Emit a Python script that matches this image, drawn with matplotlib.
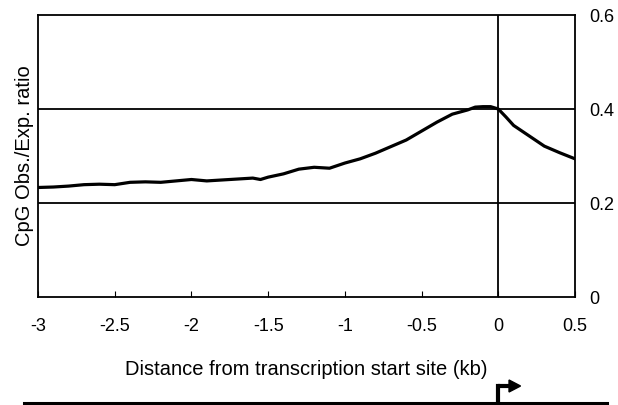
import numpy as np
import matplotlib
matplotlib.use("Agg")
import matplotlib.pyplot as plt
from matplotlib.patches import Polygon
from matplotlib.transforms import blended_transform_factory

plt.rcParams["font.family"] = ["Liberation Sans", "DejaVu Sans"]

distance_kb = [-3.0, -2.9, -2.8, -2.7, -2.6, -2.5, -2.4, -2.3, -2.2, -2.1,
               -2.0, -1.9, -1.8, -1.7, -1.6, -1.55, -1.5, -1.4, -1.3, -1.2,
               -1.1, -1.0, -0.9, -0.8, -0.7, -0.6, -0.5, -0.4, -0.3, -0.2,
               -0.15, -0.1, -0.05, 0.0, 0.05, 0.1, 0.15, 0.2, 0.3, 0.4, 0.5]
cpg_ratio = [0.233, 0.234, 0.236, 0.239, 0.240, 0.239, 0.244, 0.245, 0.244, 0.247,
             0.250, 0.247, 0.249, 0.251, 0.253, 0.250, 0.255, 0.262, 0.272, 0.276,
             0.274, 0.285, 0.294, 0.306, 0.320, 0.334, 0.353, 0.372, 0.389, 0.398,
             0.404, 0.405, 0.405, 0.400, 0.383, 0.365, 0.354, 0.343, 0.321, 0.307, 0.294]

x_ticks = [-3, -2.5, -2, -1.5, -1, -0.5, 0, 0.5]
x_tick_labels = ["-3", "-2.5", "-2", "-1.5", "-1", "-0.5", "0", "0.5"]
y_ticks = [0, 0.2, 0.4, 0.6]
y_tick_labels = ["0", "0.2", "0.4", "0.6"]
tss = 0.0

fig = plt.figure(figsize=(6.18, 4.05), dpi=100)
ax = fig.add_axes([38 / 618, 1 - 297 / 405, (575 - 38) / 618, (297 - 15) / 405])

ax.plot(distance_kb, cpg_ratio, color="black", linewidth=2.3, zorder=3)

ax.set_xlim(-3, 0.5)
ax.set_ylim(0, 0.6)
for y in y_ticks[1:3]:
    ax.axhline(y, color="black", linewidth=1.3, zorder=2)
ax.axvline(tss, color="black", linewidth=1.3, zorder=2)

for s in ax.spines.values():
    s.set_linewidth(1.3)

ax.set_xticks(x_ticks)
ax.set_xticklabels(x_tick_labels, fontsize=13)
ax.tick_params(axis="x", direction="in", length=4, width=0.8, pad=15)

ax.yaxis.tick_right()
ax.set_yticks(y_ticks)
ax.set_yticklabels(y_tick_labels, fontsize=13)
ax.tick_params(axis="y", length=0, pad=10.5)

ax.set_xlabel("Distance from transcription start site (kb)", fontsize=14.5, labelpad=18)
ax.set_ylabel("CpG Obs./Exp. ratio", fontsize=14.5, labelpad=3)
ax.yaxis.set_label_position("left")

# gene line with transcription start arrow below the plot
trans = blended_transform_factory(ax.transData, fig.transFigure)
fig.add_artist(plt.Line2D([24 / 618, 607 / 618], [0.006, 0.006], transform=fig.transFigure,
                          color="black", linewidth=2.2))
stem_top = 1 - 386 / 405
fig.add_artist(plt.Line2D([tss, tss], [0.006, stem_top], transform=trans,
                          color="black", linewidth=3, solid_capstyle="projecting"))
fig.add_artist(plt.Line2D([tss, tss + 0.07], [stem_top, stem_top], transform=trans,
                          color="black", linewidth=3, solid_capstyle="butt"))
fig.add_artist(Polygon([[tss + 0.07, 1 - 380 / 405], [tss + 0.07, 1 - 392 / 405],
                        [tss + 0.145, stem_top]], closed=True, transform=trans,
                       facecolor="black", edgecolor="black"))

fig.savefig("out.png", dpi=100)
